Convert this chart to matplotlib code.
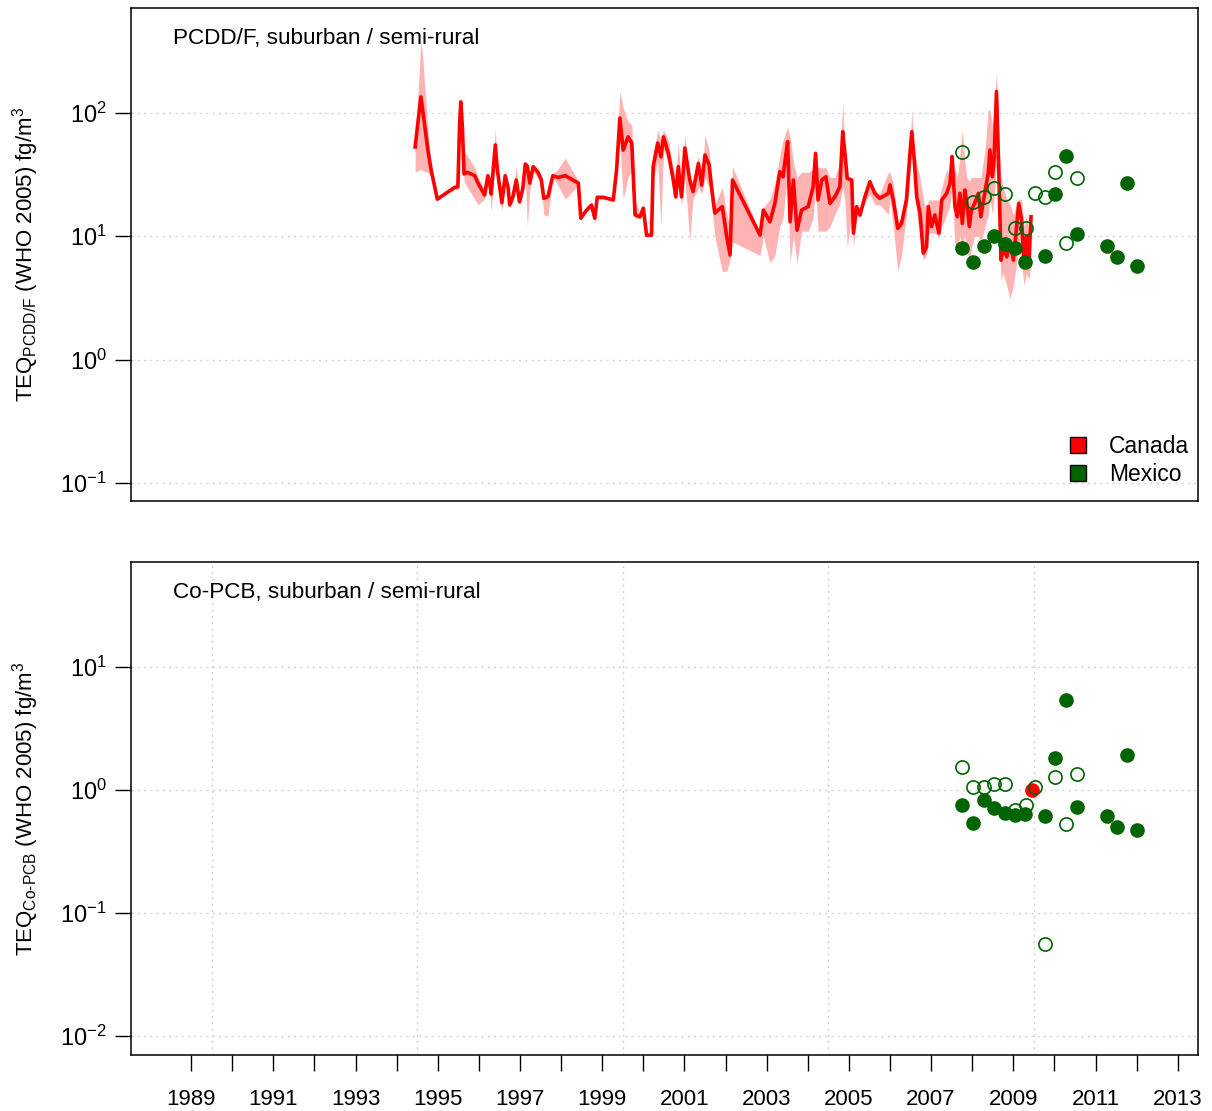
import numpy as np
import matplotlib.pyplot as plt
from matplotlib.patches import Patch
from matplotlib.ticker import LogFormatterMathtext, NullLocator

plt.rcParams['font.family'] = ['Liberation Sans', 'DejaVu Sans']
plt.rcParams['mathtext.default'] = 'regular'

# Canada PCDD/F time series (decimal year, TEQ fg/m3, lower / upper range)
pcdd_years = [
    1994.95, 1995.09, 1995.14, 1995.26, 1995.34, 1995.49, 1995.91, 1995.99, 1996.03, 1996.06,
    1996.10, 1996.14, 1996.22, 1996.40, 1996.48, 1996.64, 1996.72, 1996.76, 1996.80, 1996.90,
    1996.95, 1997.06, 1997.14, 1997.21, 1997.25, 1997.33, 1997.41, 1997.49, 1997.57, 1997.63,
    1997.68, 1997.74, 1997.82, 1997.94, 1998.02, 1998.08, 1998.18, 1998.30, 1998.42, 1998.60,
    1998.92, 1998.98, 1999.12, 1999.24, 1999.32, 1999.38, 1999.53, 1999.77, 1999.85, 1999.93,
    2000.01, 2000.13, 2000.22, 2000.30, 2000.42, 2000.50, 2000.58, 2000.70, 2000.74, 2000.85,
    2000.93, 2000.99, 2001.11, 2001.23, 2001.29, 2001.35, 2001.43, 2001.51, 2001.63, 2001.71,
    2001.84, 2001.92, 2002.00, 2002.10, 2002.16, 2002.24, 2002.42, 2002.53, 2002.61, 2002.67,
    2003.34, 2003.42, 2003.58, 2003.70, 2003.82, 2003.90, 2003.94, 2004.01, 2004.07, 2004.15,
    2004.24, 2004.35, 2004.51, 2004.63, 2004.69, 2004.75, 2004.84, 2004.94, 2005.04, 2005.16,
    2005.28, 2005.35, 2005.40, 2005.46, 2005.57, 2005.61, 2005.69, 2005.77, 2005.89, 2006.01,
    2006.13, 2006.25, 2006.46, 2006.50, 2006.58, 2006.69, 2006.78, 2006.90, 2006.98, 2007.03,
    2007.09, 2007.15, 2007.23, 2007.31, 2007.39, 2007.43, 2007.51, 2007.59, 2007.69, 2007.76,
    2007.88, 2007.96, 2008.01, 2008.08, 2008.14, 2008.20, 2008.26, 2008.32, 2008.37, 2008.43,
    2008.48, 2008.56, 2008.65, 2008.71, 2008.81, 2008.89, 2008.93, 2008.99, 2009.03, 2009.09,
    2009.15, 2009.20, 2009.25, 2009.34, 2009.42, 2009.50, 2009.58, 2009.63, 2009.70, 2009.76,
    2009.82, 2009.88, 2009.93,
]
pcdd_teq = [
    53, 135, 102, 50, 34.5, 20, 24.9, 25.2, 77, 123,
    77, 32, 33, 31, 27, 21.6, 31, 28, 22, 55,
    34.5, 18.7, 31, 25, 18, 21, 28.6, 19, 24.5, 38.5,
    37, 27, 36.7, 33, 28.6, 20.3, 21, 31, 30, 31,
    27, 14, 16.3, 17.9, 14, 20.7, 20.7, 19.7, 34.5, 91,
    50, 64, 57, 14.9, 14.4, 16.9, 10.2, 10.2, 36.7, 57,
    44, 64, 47, 28.6, 20.9, 36.7, 20.9, 52, 28.6, 23,
    39, 26, 45.6, 38, 25, 15.4, 17.4, 9.9, 7.05, 28.6,
    10.2, 16.3, 13.1, 18.5, 33.4, 30.4, 39, 58.5, 13.1, 28.6,
    11.2, 16.3, 17.4, 25.2, 47, 19.7, 28.6, 30.4, 18.5, 20.9,
    25.2, 70.5, 48.5, 29.5, 28.6, 10.6, 17.4, 14.9, 20.9, 27.7,
    22.3, 20.3, 22.3, 26.1, 19.7, 11.6, 12.7, 19.7, 44.3, 70.5,
    41.6, 20.9, 15.4, 7.3, 8.2, 17.4, 12.0, 14.9, 10.6, 19.7,
    22.3, 26.9, 44.3, 17.4, 14.4, 22.3, 12.7, 23.7, 18.5, 12.0,
    16.3, 18.5, 22.3, 14.4, 23, 32.4, 50, 30.4, 41.6, 149,
    30.4, 6.4, 8.2, 6.8, 9.0, 6.4, 12.0, 18.5, 13.5, 6.4,
    9.9, 6.4, 14.4,
]
pcdd_lo = [
    33, 35, 34, 33, 30, 20, 24, 24, 70, 110,
    70, 28, 25, 20, 18, 20, 28, 24, 16, 45,
    30, 16, 28, 20, 17, 19, 25, 18, 22, 30,
    12, 24, 33, 30, 25, 15, 14.5, 30, 26, 20,
    26, 13.5, 16, 17, 13.5, 20, 20, 19, 30, 60,
    20, 30, 35, 14, 14, 15, 10, 10, 30, 40,
    12, 50, 40, 22, 20, 25, 18, 30, 9.3, 20,
    25, 22, 30, 25, 18, 10, 5.2, 5.2, 6.5, 9,
    7.0, 10, 6.1, 7, 12, 14, 20, 30, 6.1, 10,
    6.1, 11, 11, 14, 25, 11, 11, 11, 12, 15,
    18.5, 25, 20, 8.2, 15, 8.2, 15, 14, 19, 22,
    18, 18, 15, 20, 12, 5.2, 7, 15, 30, 50,
    30, 15, 10, 6.4, 7, 10.6, 10.6, 10.6, 10, 12,
    15, 18, 25, 8.2, 8.2, 10, 8.2, 10, 8, 6,
    8, 10, 10, 9, 12, 15, 20, 15, 20, 40,
    10, 4.4, 5, 4, 3.1, 4, 6, 8, 6, 4,
    5, 4.5, 6,
]
pcdd_hi = [
    53, 390, 270, 73, 36, 20, 26, 26, 80, 125,
    80, 48, 45, 36, 30, 24, 33, 30, 24, 75,
    36, 20, 34, 27, 19, 23, 37, 20, 27, 40,
    38, 29, 38, 35, 30, 21, 22, 32, 35, 43,
    28, 14.5, 17, 19, 14.5, 21, 21, 20, 40, 150,
    110, 85, 80, 20, 15, 18, 10.5, 10.5, 45, 73,
    60, 73, 60, 35, 30, 58, 25, 66, 30, 26,
    45, 30, 66, 50, 30, 18, 25, 15, 12, 36.7,
    10.5, 17, 20, 27, 45, 60, 66, 77, 64, 40,
    30, 33, 33, 35, 48.5, 36, 36, 36, 30, 30,
    40, 123, 50, 30, 30, 12, 18, 16, 22, 29,
    24, 22, 33, 33, 27, 13, 14, 25, 48, 106,
    50, 39, 30, 20, 15, 19.7, 19.7, 19.7, 19.7, 25,
    35, 30, 48, 35, 30, 45, 73, 40, 30, 28,
    30, 30, 30, 30, 50, 106, 106, 80, 106, 216,
    60, 30, 25, 20, 18, 15, 18, 20, 20, 12,
    15, 10, 15,
]

# Mexico samples (decimal year)
mx_open_years = [2008.26, 2008.51, 2008.79, 2009.03, 2009.29, 2009.54, 2009.80,
                 2010.02, 2010.27, 2010.51, 2010.79, 2011.04]
mx_open_pcdd = [48, 19.1, 20.9, 24.5, 22.0, 11.6, 11.7, 22.3, 20.9, 33.0, 8.9, 29.5]
mx_open_pcb = [1.55, 1.06, 1.06, 1.12, 1.12, 0.69, 0.76, 1.06, 0.056, 1.28, 0.53, 1.35]

mx_fill_years = [2008.26, 2008.51, 2008.79, 2009.03, 2009.29, 2009.54, 2009.78,
                 2010.27, 2010.51, 2010.79, 2011.04, 2011.77, 2012.02, 2012.27, 2012.51]
mx_fill_pcdd = [8.0, 6.2, 8.3, 10.0, 8.6, 8.0, 6.2, 6.9, 22.0, 44.8, 10.4, 8.3, 6.8, 26.9, 5.7]
mx_fill_pcb = [0.76, 0.54, 0.83, 0.71, 0.65, 0.63, 0.64, 0.61, 1.83, 5.37, 0.73, 0.62, 0.50, 1.92, 0.47]

# Canada Co-PCB sample
ca_pcb_years = [2009.96]
ca_pcb = [1.0]

tick_years = list(range(1989, 2014))
grid_years = [1990, 1995, 2000, 2005, 2010]

RED = '#FF0000'
PINK = '#FFB3B3'
GREEN = '#006400'
GRID = '#D3D3D3'

fig = plt.figure(figsize=(12.12, 11.11), dpi=100)
ax1 = fig.add_axes([0.1081, 0.5491, 0.8803, 0.4437])
ax2 = fig.add_axes([0.1081, 0.0504, 0.8803, 0.4437])


def style_axes(ax, ylim, yticks, ylabel, title):
    ax.set_yscale('log')
    ax.set_xlim(1988.04, 2013.99)
    ax.set_ylim(*ylim)
    ax.set_yticks(yticks)
    ax.yaxis.set_major_formatter(LogFormatterMathtext())
    ax.yaxis.set_minor_locator(NullLocator())
    ax.set_xticks(grid_years, minor=True)
    ax.set_axisbelow(True)
    ax.grid(which='minor', axis='x', color=GRID, linestyle=(0, (1.5, 3)), linewidth=1)
    ax.grid(which='major', axis='y', color=GRID, linestyle=(0, (1.5, 3)), linewidth=1)
    ax.tick_params(axis='x', which='minor', length=0)
    ax.tick_params(axis='y', which='major', length=11.5, width=1, pad=6, labelsize=17)
    for s in ax.spines.values():
        s.set_linewidth(1.1)
    ax.set_ylabel(ylabel, fontsize=16)
    ax.yaxis.set_label_coords(-0.084, 0.5)
    ax.text(0.0394, 0.939, title, transform=ax.transAxes, fontsize=16.2,
            ha='left', va='center')


style_axes(ax1, (10 ** -1.146, 10 ** 2.851), [0.1, 1, 10, 100],
           'TEQ$_{PCDD/F}$ (WHO 2005) fg/m$^3$', 'PCDD/F, suburban / semi-rural')
style_axes(ax2, (10 ** -2.154, 10 ** 1.854), [0.01, 0.1, 1, 10],
           'TEQ$_{Co\u2010PCB}$ (WHO 2005) fg/m$^3$', 'Co-PCB, suburban / semi-rural')

# top panel: Canada series with range band, then Mexico points
ax1.fill_between(pcdd_years, pcdd_lo, pcdd_hi, color=PINK, linewidth=0, zorder=2)
ax1.plot(pcdd_years, pcdd_teq, color=RED, linewidth=2.6, zorder=3)
ax1.plot(mx_open_years, mx_open_pcdd, 'o', ms=9.5, mfc='none', mec=GREEN, mew=1.2, zorder=4)
ax1.plot(mx_fill_years, mx_fill_pcdd, 'o', ms=9.5, mfc=GREEN, mec=GREEN, zorder=4)
ax1.tick_params(axis='x', which='major', bottom=False, labelbottom=False)

handles = [Patch(facecolor=RED, edgecolor='black', label='Canada'),
           Patch(facecolor=GREEN, edgecolor='black', label='Mexico')]
ax1.legend(handles=handles, loc='lower right', bbox_to_anchor=(0.992, 0.03),
           frameon=False, fontsize=16.5, handlelength=0.7, handleheight=0.7,
           handletextpad=1.0, labelspacing=0.22, borderpad=0, borderaxespad=0)

# bottom panel
ax2.plot(ca_pcb_years, ca_pcb, 'o', ms=9.5, mfc=RED, mec=RED, zorder=3)
ax2.plot(mx_open_years, mx_open_pcb, 'o', ms=9.5, mfc='none', mec=GREEN, mew=1.2, zorder=4)
ax2.plot(mx_fill_years, mx_fill_pcb, 'o', ms=9.5, mfc=GREEN, mec=GREEN, zorder=4)

ax2.set_xticks([y + 0.5 for y in tick_years],
               [str(y) if y % 2 == 1 else '' for y in tick_years])
ax2.tick_params(axis='x', which='major', length=11.5, width=1, pad=13, labelsize=16)

fig.savefig('out.png', dpi=100)
